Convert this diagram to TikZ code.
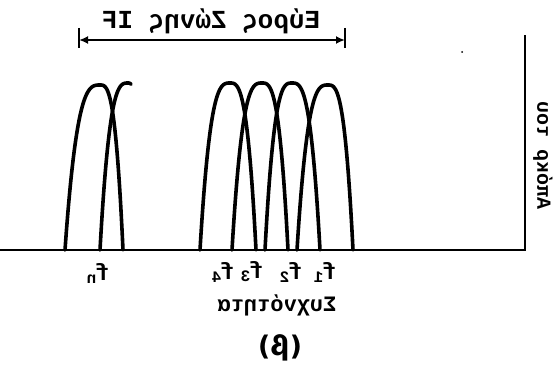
\documentclass[tikz,border=0pt]{standalone}
\usepackage{fontspec}
\setmainfont{Liberation Sans}
\newfontfamily\twfont{Liberation Mono}
\newfontfamily\djfont{DejaVu Sans}
\usetikzlibrary{arrows.meta}
\newcommand\passband[5]{% center, left width, right width, peak y, end parameter
  \draw[curve] plot[domain=-1:0,samples=40,smooth] ({#1+#2*\x},{250-(250-#4)*(1-abs(\x)^3)})
    -- plot[domain=0:#5,samples=40,smooth] ({#1+#3*\x},{250-(250-#4)*(1-abs(\x)^3)});}
\newcommand\fsub[1]{f\kern-1pt\raisebox{-3pt}{\fontsize{16}{16}\selectfont #1}}
\begin{document}
\begin{tikzpicture}[x=1pt,y=-1pt,
  curve/.style={line width=3.6pt, line cap=round, line join=round},
  axisline/.style={line width=2.4pt, line join=miter},
  mirror/.style={xscale=-1, inner sep=0pt},
  flab/.style={mirror, font=\twfont\bfseries\fontsize{23}{23}\selectfont},
]
\useasboundingbox (0,0) rectangle (557,369);

% axes
\coordinate (xstart) at (0,250);
\coordinate (origin) at (525,250);
\coordinate (ytop) at (525,35);
\draw[axisline] (xstart) -- (origin) -- (ytop);

% pass bands
\passband{100}{35}{23}{85}{1}
\passband{128}{28}{15}{83}{0.2}
\passband{230}{30}{26}{83}{1}
\passband{262}{30}{26}{83}{1}
\passband{292}{27}{28}{83}{1}
\passband{328}{31}{25}{85}{1}

% IF bandwidth marker
\coordinate (bl) at (79,40);
\coordinate (br) at (345,40);
\coordinate (blt) at (79,28);
\coordinate (blb) at (79,48);
\coordinate (brt) at (345,28);
\coordinate (brb) at (345,48);
\draw[line width=2pt] (blt) -- (blb);
\draw[line width=2pt] (brt) -- (brb);
\draw[line width=1.8pt, {Latex[length=9pt,width=8pt]}-{Latex[length=9pt,width=8pt]}] (bl) -- (br);
\node[mirror, font=\twfont\bfseries\fontsize{26}{26}\selectfont] (bw) at (211,21) {Εύρος Ζώνης IF};

% frequency labels
\node[flab] (fn) at (98,273) {\fsub{n}};
\node[flab] (f4) at (223,272) {\fsub{4}};
\node[flab] (f3) at (252,272) {\fsub{3}};
\node[flab] (f2) at (291,272) {\fsub{2}};
\node[flab] (f1) at (325,272) {\fsub{1}};
\node[mirror, font=\twfont\bfseries\fontsize{22}{22}\selectfont] (freq) at (277,305) {Συχνότητα};
\node[mirror, font=\djfont\bfseries\fontsize{27}{27}\selectfont] (cap) at (280,348) {(β)};

% vertical axis label
\node[inner sep=0pt, cm={0,1,1,0,(0,0)}, font=\twfont\bfseries\fontsize{20}{20}\selectfont] (amp) at (543,155) {Απόκρ του};

% speck
\fill (462,52) circle (1pt);
\end{tikzpicture}
\end{document}
